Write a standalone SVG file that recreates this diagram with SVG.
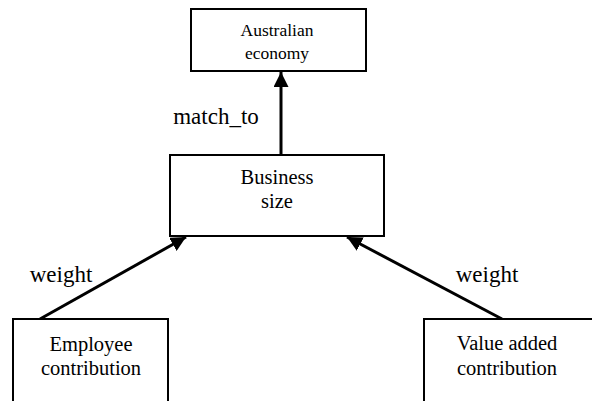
<svg xmlns="http://www.w3.org/2000/svg" width="592" height="401" viewBox="0 0 592 401">
<defs>
<style>
.box{fill:#fff;stroke:#000;stroke-width:2}
.t{font-family:"Liberation Serif","Times New Roman",serif;fill:#000;text-anchor:middle}
.edge{stroke:#000;stroke-width:3;fill:none}
</style>
<marker id="ah" viewBox="0 0 10 10" refX="10" refY="5" markerWidth="5" markerHeight="5" markerUnits="strokeWidth" orient="auto">
<path d="M0,0 L10,5 L0,10 z" fill="#000"/>
</marker>
</defs>
<rect width="592" height="401" fill="#fff"/>
<g id="connectors">
<line class="edge" x1="281" y1="154" x2="281" y2="72" marker-end="url(#ah)"/>
<line class="edge" x1="40" y1="319" x2="186" y2="237" marker-end="url(#ah)"/>
<line class="edge" x1="502" y1="319" x2="347" y2="237" marker-end="url(#ah)"/>
<text class="t" x="216" y="124" font-size="23">match_to</text>
<text class="t" x="61" y="282" font-size="23">weight</text>
<text class="t" x="487" y="282" font-size="23">weight</text>
</g>
<g id="australian-economy">
<rect class="box" x="191" y="9" width="175" height="62"/>
<text class="t" x="277" y="36" font-size="17.5">Australian</text>
<text class="t" x="277" y="59" font-size="17.5">economy</text>
</g>
<g id="business-size">
<rect class="box" x="170" y="155" width="214" height="81"/>
<text class="t" x="277" y="184" font-size="20.5">Business</text>
<text class="t" x="277" y="208" font-size="20.5">size</text>
</g>
<g id="employee-contribution">
<rect class="box" x="13" y="319" width="155" height="110"/>
<text class="t" x="91" y="351" font-size="20.5">Employee</text>
<text class="t" x="91" y="375" font-size="20.5">contribution</text>
</g>
<g id="value-added-contribution">
<rect class="box" x="424" y="319" width="180" height="110"/>
<text class="t" x="507" y="350" font-size="20.5">Value added</text>
<text class="t" x="507" y="375" font-size="20.5">contribution</text>
</g>
</svg>
